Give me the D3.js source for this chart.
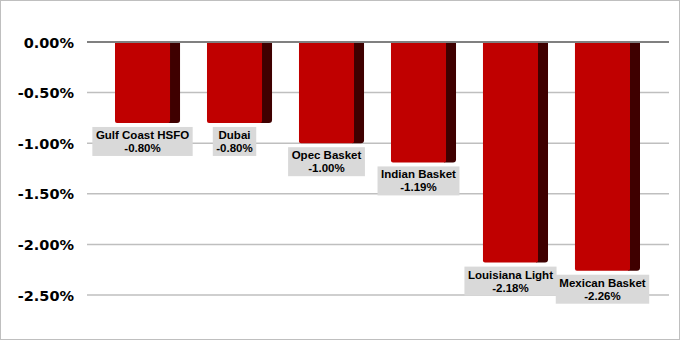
<!DOCTYPE html>
<html>
<head>
<meta charset="utf-8">
<script src="https://cdn.jsdelivr.net/npm/d3@7"></script>
<style>
  html, body { margin: 0; padding: 0; background: #fff; }
  svg { display: block; }
</style>
</head>
<body>
<svg id="chart" width="681" height="341"></svg>
<script>
// chart data
const categories = ['Gulf Coast HSFO', 'Dubai', 'Opec Basket', 'Indian Basket', 'Louisiana Light', 'Mexican Basket']
const changes = [-0.80, -0.80, -1.00, -1.19, -2.18, -2.26]
const yTicks = [0, -0.5, -1.0, -1.5, -2.0, -2.5]

const data = categories.map((name, i) => ({ name, value: changes[i] }))

// excel style percent, plain hyphen for the minus sign
const pct = d => d3.format('.2f')(d).replace('\u2212', '-') + '%'

const svg = d3.select('#chart')

// outer frame
svg.append('rect')
  .attr('x', 0.5).attr('y', 0.5)
  .attr('width', 679).attr('height', 339)
  .attr('fill', '#fff')
  .attr('stroke', '#bfbfbf')

const gridLeft = 87
const gridRight = 669

const x = d3.scaleBand()
  .domain(categories)
  .range([101.2, 653.8])
  .paddingInner(0.293)
  .paddingOuter(0.15)

const y = d3.scaleLinear()
  .domain([0, -2.5])
  .range([42, 295])

// gridlines
svg.append('g')
  .selectAll('line')
  .data(yTicks.filter(t => t !== 0))
  .join('line')
  .attr('x1', gridLeft)
  .attr('x2', gridRight)
  .attr('y1', d => y(d))
  .attr('y2', d => y(d))
  .attr('stroke', '#bfbfbf')
  .attr('stroke-width', 1.5)

// y axis labels
const yAxis = d3.axisLeft(y)
  .tickValues(yTicks)
  .tickSize(0)
  .tickPadding(0)
  .tickFormat(pct)

svg.append('g')
  .attr('transform', 'translate(74,0)')
  .call(yAxis)
  .call(g => g.select('.domain').remove())
  .selectAll('text')
  .attr('font-family', 'DejaVu Sans, Verdana, sans-serif')
  .attr('font-weight', 'bold')
  .attr('font-size', 14.5)
  .attr('fill', '#000')
  .attr('dy', '0.35em')

const sideW = 10
const frontW = x.bandwidth() - sideW

const bars = svg.append('g')
  .selectAll('g')
  .data(data)
  .join('g')

// dark side face
bars.append('path')
  .attr('d', d => {
    const x0 = x(d.name) + frontW - 2
    const x1 = x(d.name) + x.bandwidth()
    const y0 = y(0) + 1
    const y1 = y(d.value)
    return `M${x0},${y0}H${x1}V${y1 - 3}Q${x1},${y1} ${x1 - 3},${y1}H${x0}Z`
  })
  .attr('fill', '#3f0000')

// red front face
bars.append('path')
  .attr('d', d => {
    const x0 = x(d.name)
    const x1 = x(d.name) + frontW
    const y0 = y(0) + 1
    const y1 = y(d.value)
    return `M${x0},${y0}H${x1}V${y1 - 2}Q${x1},${y1} ${x1 - 2},${y1}H${x0 + 2}Q${x0},${y1} ${x0},${y1 - 2}Z`
  })
  .attr('fill', '#c00000')

// zero line
svg.append('line')
  .attr('x1', gridLeft)
  .attr('x2', gridRight)
  .attr('y1', y(0))
  .attr('y2', y(0))
  .attr('stroke', '#808080')
  .attr('stroke-width', 2)

// data labels
const labels = svg.append('g')
  .selectAll('g')
  .data(data)
  .join('g')
  .attr('transform', d => `translate(${x(d.name) + frontW / 2},${y(d.value) + 4})`)

labels.each(function (d) {
  const g = d3.select(this)
  const bg = g.append('rect').attr('fill', '#d9d9d9')
  const t = g.append('text')
    .attr('text-anchor', 'middle')
    .attr('font-family', 'Liberation Sans, Arial, sans-serif')
    .attr('font-weight', 'bold')
    .attr('font-size', 11.5)
    .attr('fill', '#000')
  t.append('tspan').attr('x', 0).attr('y', 12).text(d.name)
  t.append('tspan').attr('x', 0).attr('y', 25).text(pct(d.value))
  const w = t.node().getBBox().width + 7
  bg.attr('x', -w / 2).attr('y', 0).attr('width', w).attr('height', 29)
})
</script>
</body>
</html>
